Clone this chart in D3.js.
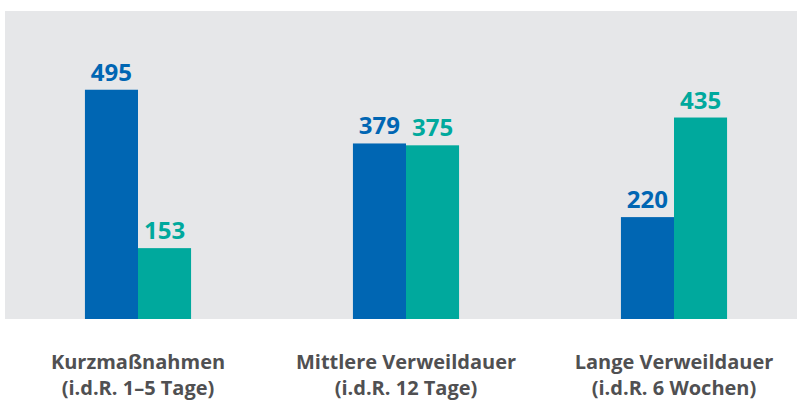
<!DOCTYPE html>
<html>
<head>
<meta charset="utf-8">
<script src="https://cdn.jsdelivr.net/npm/d3@7"></script>
<style>
  body { margin: 0; background: #fff; }
  svg { display: block; }
  text { font-family: "Open Sans", sans-serif; font-weight: 700; }
</style>
</head>
<body>
<div id="chart"></div>
<script>
// categories, two lines each
var categories = ["Kurzmaßnahmen", "Mittlere Verweildauer", "Lange Verweildauer"];
var subLabels = ["(i.d.R. 1–5 Tage)", "(i.d.R. 12 Tage)", "(i.d.R. 6 Wochen)"];
var seriesNames = ["a", "b"];
var seriesA = [495, 379, 220];
var seriesB = [153, 375, 435];
var colours = ["#0066b3", "#00a99d"];

var width = 797, height = 401;
var panel = {left: 5, top: 11, right: 797, bottom: 319};

var svg = d3.select("#chart").append("svg")
  .attr("width", width).attr("height", height);

// grey plot background
svg.append("rect")
  .attr("x", panel.left).attr("y", panel.top)
  .attr("width", panel.right - panel.left)
  .attr("height", panel.bottom - panel.top)
  .attr("fill", "#e6e7e9");

var x0 = d3.scaleBand().domain(categories).range([4, 808])
  .paddingInner(0.604).paddingOuter(0.302);
var x1 = d3.scaleBand().domain(seriesNames).range([0, x0.bandwidth()]);
var y = d3.scaleLinear().domain([0, 665]).range([panel.bottom, panel.top]);

var rows = categories.map(function(c, i) {
  return {cat: c, values: [seriesA[i], seriesB[i]]};
});

var groups = svg.selectAll("g.grp").data(rows).enter().append("g")
  .attr("class", "grp")
  .attr("transform", function(d) { return "translate(" + x0(d.cat) + ",0)"; });

groups.selectAll("rect").data(function(d) {
    return d.values.map(function(v, j) { return {key: seriesNames[j], v: v, j: j}; });
  })
  .enter().append("rect")
  .attr("x", function(d) { return x1(d.key); })
  .attr("y", function(d) { return y(d.v); })
  .attr("width", x1.bandwidth())
  .attr("height", function(d) { return y(0) - y(d.v); })
  .attr("fill", function(d) { return colours[d.j]; });

groups.selectAll("text.val").data(function(d) {
    return d.values.map(function(v, j) { return {key: seriesNames[j], v: v, j: j}; });
  })
  .enter().append("text")
  .attr("class", "val")
  .attr("x", function(d) { return x1(d.key) + x1.bandwidth() / 2; })
  .attr("y", function(d) { return y(d.v) - 9; })
  .attr("text-anchor", "middle")
  .attr("font-size", 24)
  .attr("fill", function(d) { return colours[d.j]; })
  .text(function(d) { return d.v; });

// category labels under the panel
var lab = svg.selectAll("text.cat").data(categories).enter().append("text")
  .attr("class", "cat")
  .attr("text-anchor", "middle")
  .attr("font-size", 20)
  .attr("fill", "#505052")
  .attr("transform", function(d) { return "translate(" + (x0(d) + x0.bandwidth() / 2) + ",0)"; });
lab.append("tspan").attr("x", 0).attr("y", 369).text(function(d) { return d; });
lab.append("tspan").attr("x", 0).attr("y", 395).text(function(d, i) { return subLabels[i]; });
</script>
</body>
</html>
